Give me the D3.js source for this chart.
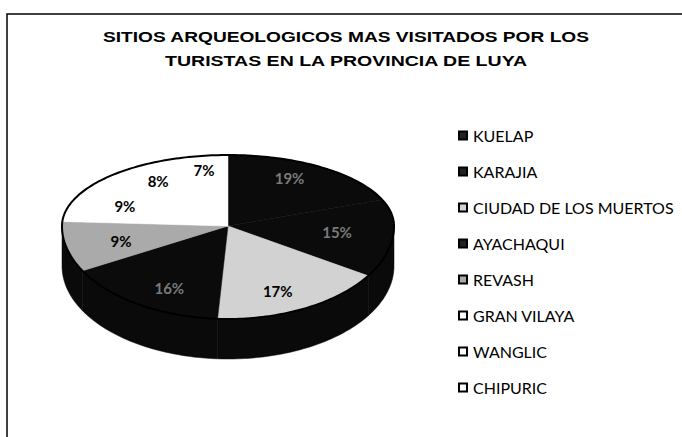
<!DOCTYPE html>
<html>
<head>
<meta charset="utf-8">
<script src="https://cdn.jsdelivr.net/npm/d3@7"></script>
<style>
  html, body { margin: 0; padding: 0; background: #fff; }
  svg { display: block; }
</style>
</head>
<body>
<div id="chart"></div>
<script>
// Chart data
const sites = ['KUELAP', 'KARAJIA', 'CIUDAD DE LOS MUERTOS', 'AYACHAQUI',
  'REVASH', 'GRAN VILAYA', 'WANGLIC', 'CHIPURIC']
const shares = [19, 15, 17, 16, 9, 9, 8, 7]
const fills = ['#0b0b0b', '#0b0b0b', '#d2d2d2', '#0b0b0b',
  '#aaaaaa', '#ffffff', '#ffffff', '#ffffff']
const titleLines = ['SITIOS ARQUEOLOGICOS MAS VISITADOS POR LOS',
  'TURISTAS EN LA PROVINCIA DE LUYA']

const width = 682, height = 437
// 3d pie seen in perspective: the back half of the top face is flatter
const cx = 228, cy = 226, rx = 166, ryBack = 71, ryFront = 93, depth = 40

const svg = d3.select('#chart')
  .append('svg')
  .attr('width', width)
  .attr('height', height)

// frame (only top and left edges are visible in the scan)
svg.append('rect')
  .attr('x', 7).attr('y', 14)
  .attr('width', 720).attr('height', 460)
  .attr('fill', 'none')
  .attr('stroke', '#000')
  .attr('stroke-width', 1.5)

// title (the scan is stretched sideways, so the glyphs are wide)
const titleWidths = [486, 362]
svg.append('g')
  .selectAll('text')
  .data(titleLines)
  .enter()
  .append('text')
  .attr('x', 346)
  .attr('y', (d, i) => 42 + i * 24)
  .attr('text-anchor', 'middle')
  .attr('font-family', 'Liberation Sans, Arial, sans-serif')
  .attr('font-weight', 'bold')
  .attr('font-size', '15px')
  .attr('textLength', (d, i) => titleWidths[i])
  .attr('lengthAdjust', 'spacingAndGlyphs')
  .text(d => d)

const pie = d3.pie().sort(null).value(d => d)
const arcs = pie(shares)

// point on the top rim, angle 0 at 12 o'clock, clockwise (same as d3.pie)
const pt = (a, dy = 0) => {
  const c = Math.cos(a)
  return [cx + rx * Math.sin(a), cy - (c > 0 ? ryBack : ryFront) * c + dy]
}
const sample = (a0, a1, dy = 0) => {
  const n = Math.max(2, Math.ceil((a1 - a0) / 0.02))
  return d3.range(n + 1).map(i => pt(a0 + (a1 - a0) * i / n, dy))
}
const line = d3.line().curve(d3.curveLinearClosed)

// side walls (front half only)
const front = svg.append('g')
arcs.forEach(d => {
  const a0 = Math.max(d.startAngle, Math.PI / 2)
  const a1 = Math.min(d.endAngle, 3 * Math.PI / 2)
  if (a1 <= a0) return
  const top = sample(a0, a1)
  const bottom = sample(a0, a1, depth).reverse()
  front.append('path')
    .attr('d', line(top.concat(bottom)))
    .attr('fill', '#0a0a0a')
    .attr('stroke', '#0a0a0a')
    .attr('stroke-width', 0.5)
})

// top faces
svg.append('g')
  .selectAll('path')
  .data(arcs)
  .enter()
  .append('path')
  .attr('d', d => line([[cx, cy]].concat(sample(d.startAngle, d.endAngle))))
  .attr('fill', (d, i) => fills[i])
  .attr('stroke', (d, i) => fills[i])
  .attr('stroke-width', 0.5)

// outline of the top rim
svg.append('path')
  .attr('d', line(sample(0, 2 * Math.PI)))
  .attr('fill', 'none')
  .attr('stroke', '#000')
  .attr('stroke-width', 2)

// percentage labels
const labelPos = d => {
  const a = (d.startAngle + d.endAngle) / 2
  const c = Math.cos(a)
  return [cx + 0.66 * rx * Math.sin(a), cy - 0.8 * (c > 0 ? ryBack : ryFront) * c + 5]
}
svg.append('g')
  .selectAll('text')
  .data(arcs)
  .enter()
  .append('text')
  .attr('x', d => labelPos(d)[0])
  .attr('y', d => labelPos(d)[1])
  .attr('text-anchor', 'middle')
  .attr('font-family', 'Lato, Open Sans, sans-serif')
  .attr('font-weight', 'bold')
  .attr('font-size', '15px')
  .attr('fill', (d, i) => fills[i] === '#0b0b0b' ? '#7a7a7a' : '#000')
  .text(d => d.data + '%')

// legend
const legendY = d3.scalePoint()
  .domain(sites)
  .range([136, 388])

const legend = svg.append('g')
  .selectAll('g')
  .data(sites)
  .enter()
  .append('g')
  .attr('transform', d => `translate(458,${legendY(d)})`)

legend.append('rect')
  .attr('x', 1).attr('y', -4.5)
  .attr('width', 8).attr('height', 8)
  .attr('fill', (d, i) => fills[i] === '#0b0b0b' ? '#222' : fills[i])
  .attr('stroke', '#000')
  .attr('stroke-width', 2)

legend.append('text')
  .attr('x', 15)
  .attr('y', 5.5)
  .attr('font-family', 'Lato, Open Sans, sans-serif')
  .attr('font-size', '16px')
  .attr('fill', '#000')
  .text(d => d)
</script>
</body>
</html>
